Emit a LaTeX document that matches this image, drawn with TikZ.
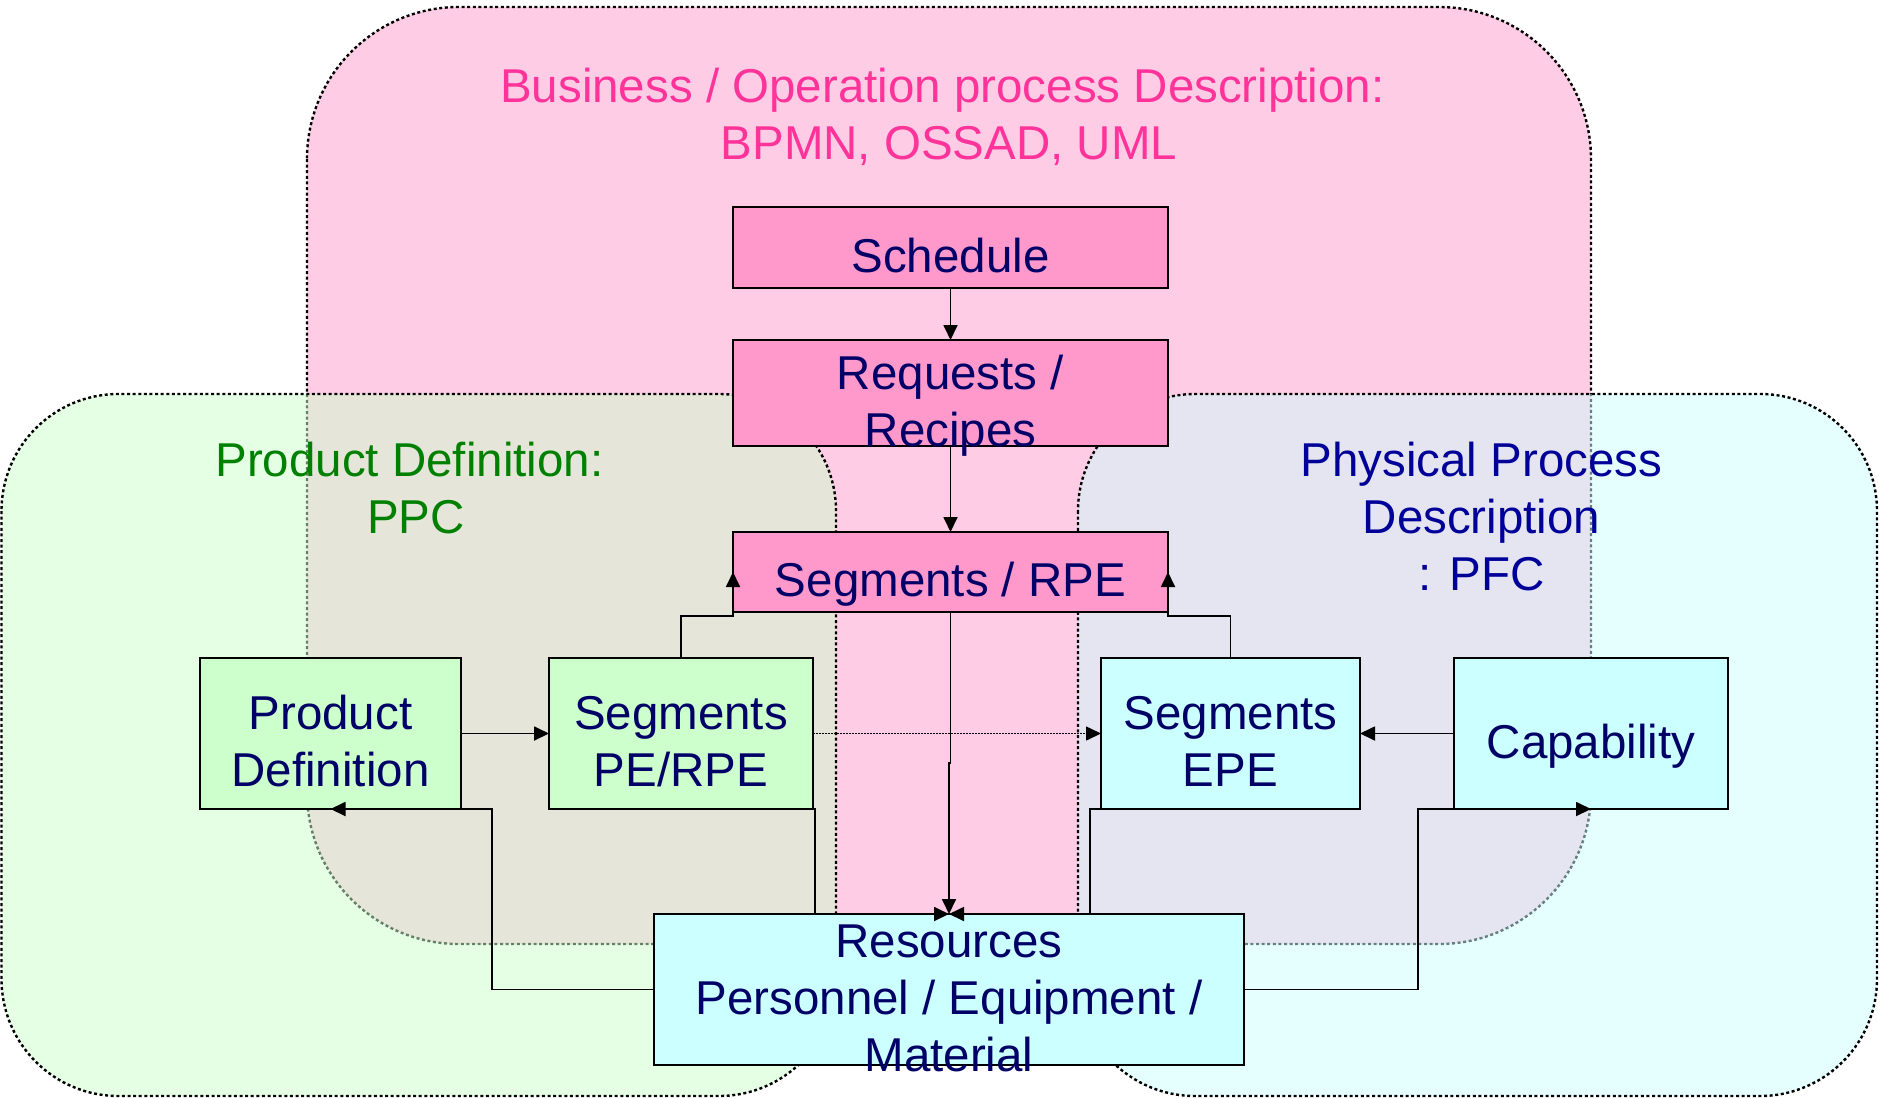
\documentclass[tikz,border=0pt]{standalone}
\usepackage{fontspec}
\setmainfont{Liberation Sans}
\usetikzlibrary{arrows.meta}
\definecolor{pinkbox}{HTML}{FF99CC}
\definecolor{greenbox}{HTML}{CCFFCC}
\definecolor{cyanbox}{HTML}{CCFFFF}
\definecolor{navytxt}{HTML}{000066}
\definecolor{bluetxt}{HTML}{000099}
\definecolor{greentxt}{HTML}{008000}
\definecolor{pinktxt}{HTML}{FF3399}
\newcommand{\mylines}[1]{\begin{tabular}[t]{@{}c@{}}#1\end{tabular}}
\newcommand{\bigfont}{\fontsize{47.5}{57}\selectfont}
\tikzset{
  regionline/.style={draw=black, line width=2.4pt, dash pattern=on 3pt off 2.6pt},
  regionlabel/.style={font=\bigfont, inner sep=0pt, anchor=base},
  box/.style={draw=black, line width=2.2pt, inner sep=0pt, outer sep=0pt,
    font=\bigfont, text=navytxt, text height=49pt, text depth=0pt},
  twolines/.style={text height=49pt, text depth=57pt},
  threelines/.style={text height=40pt, text depth=105pt},
  pinkb/.style={box, fill=pinkbox},
  greenb/.style={box, fill=greenbox},
  cyanb/.style={box, fill=cyanbox},
  arr/.style={draw=black, line width=1.8pt, -{Triangle[length=15pt,width=14pt]}},
  dotline/.style={line width=1.5pt, dash pattern=on 1.5pt off 1.5pt}
}
\begin{document}
\begin{tikzpicture}[x=1pt,y=-1pt]
\useasboundingbox (0,0) rectangle (1879,1098);
% regions
\path[regionline, fill=pinkbox, fill opacity=0.5, rounded corners=152pt] (307,7) rectangle (1591,944);
\path[regionline, fill=greenbox, fill opacity=0.5, rounded corners=117pt] (1.5,394) rectangle (836,1096);
\path[regionline, fill=cyanbox, fill opacity=0.5, rounded corners=117pt] (1078,394) rectangle (1877,1096);
% region labels
\node[regionlabel, text=pinktxt] (title) at (949,102) {\mylines{Business / Operation process Description:\kern0.278em\\BPMN, OSSAD, UML}};
\node[regionlabel, text=greentxt] (pdlabel) at (416,476) {\mylines{Product Definition:\kern0.278em\\PPC}};
\node[regionlabel, text=bluetxt] (pplabel) at (1481.5,476) {\mylines{Physical Process\\Description\\: PFC}};
% boxes
\node[pinkb, minimum width=435pt, minimum height=81pt] (sched) at (950.5,247.5) {\mylines{Schedule}};
\node[pinkb, twolines, minimum width=435pt, minimum height=106pt] (req) at (950.5,393) {\mylines{Requests /\\Recipes}};
\node[pinkb, minimum width=435pt, minimum height=80pt] (rpe) at (950.5,572) {\mylines{Segments / RPE}};
\node[greenb, twolines, minimum width=261pt, minimum height=151pt] (pd) at (330.5,733.5) {\mylines{Product\\Definition}};
\node[greenb, twolines, minimum width=264pt, minimum height=151pt] (pe) at (681,733.5) {\mylines{Segments\\PE/RPE}};
\node[cyanb, twolines, minimum width=259pt, minimum height=151pt] (epe) at (1230.5,733.5) {\mylines{Segments\\EPE}};
\node[cyanb, minimum width=274pt, minimum height=151pt] (cap) at (1591,733.5) {\mylines{Capability}};
\node[cyanb, threelines, minimum width=590pt, minimum height=151pt] (res) at (949,989.5) {\mylines{Resources\\Personnel / Equipment /\\Material}};
% connectors
\coordinate (jog) at (949,763);
\draw[arr] (sched.south) -- (req.north);
\draw[arr] (req.south) -- (rpe.north);
\draw[arr] (rpe.south) -- (rpe.south |- jog) -- (jog) -- (res.north);
\draw[arr] (pe.south east) -- ++(2pt,0pt) |- (res.north);
\draw[arr] (epe.south west) -- ++(-11pt,0pt) |- (res.north);
\draw[arr] (pd.east) -- (pe.west);
\draw[arr] (cap.west) -- (epe.east);
\draw[arr, dotline] (pe.east) -- (epe.west);
\draw[arr] (pe.north) |- ([yshift=-4pt]rpe.south west) -- (rpe.west);
\draw[arr] (epe.north) |- ([yshift=-4pt]rpe.south east) -- (rpe.east);
\draw[arr] (res.west) -| ([xshift=31pt]pd.south east) -- (pd.south);
\draw[arr] (res.east) -| ([xshift=-36pt]cap.south west) -- (cap.south);
\end{tikzpicture}
\end{document}
